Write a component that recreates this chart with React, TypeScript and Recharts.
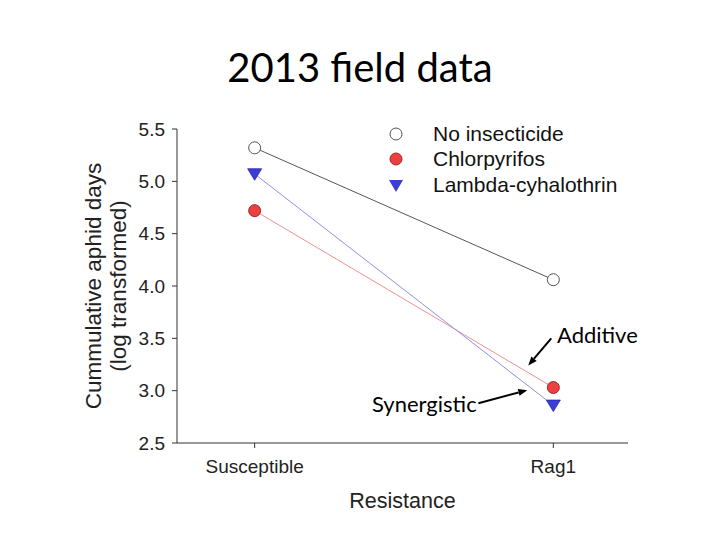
import {
  Line,
  LineChart,
  ReferenceLine,
  XAxis,
  YAxis,
} from "recharts";

const CATEGORIES = ["Susceptible", "Rag1"];
const NO_INSECTICIDE = [5.32, 4.06];
const CHLORPYRIFOS = [4.72, 3.03];
const LAMBDA = [5.07, 2.86];
const Y_TICKS = [2.5, 3.0, 3.5, 4.0, 4.5, 5.0, 5.5];

// arrows (start -> head) in data coordinates
const ADDITIVE_ARROW = [
  { x: 0.993, y: 3.5 },
  { x: 0.916, y: 3.24 },
];
const SYNERGISTIC_ARROW = [
  { x: 0.749, y: 2.88 },
  { x: 0.913, y: 3.005 },
];

const AXIS = "#333333";
const SANS = "'Liberation Sans', Arial, sans-serif";
const SLIDE = "Lato, 'Open Sans', sans-serif";

const data = CATEGORIES.map((c, i) => ({
  x: i,
  label: c,
  none: NO_INSECTICIDE[i],
  chlor: CHLORPYRIFOS[i],
  lambda: LAMBDA[i],
}));

function OpenCircle(props: any) {
  const { cx, cy } = props;
  return <circle cx={cx} cy={cy} r={6} fill="#fff" stroke="#555" strokeWidth={1} />;
}

function RedCircle(props: any) {
  const { cx, cy } = props;
  return <circle cx={cx} cy={cy} r={6} fill="#ec4040" stroke="#a02828" strokeWidth={1} />;
}

function BlueTriangle(props: any) {
  const { cx, cy } = props;
  const s = 7;
  return (
    <path
      d={`M${cx - s},${cy - s * 0.75} L${cx + s},${cy - s * 0.75} L${cx},${cy + s * 0.9} Z`}
      fill="#3c3cd8"
      stroke="#2a2aa0"
      strokeWidth={0.8}
    />
  );
}

function Arrow(props: any) {
  const { x1, y1, x2, y2 } = props;
  const ang = Math.atan2(y2 - y1, x2 - x1);
  const len = 9;
  const w = 3.5;
  const bx = x2 - len * Math.cos(ang);
  const by = y2 - len * Math.sin(ang);
  const px = -Math.sin(ang) * w;
  const py = Math.cos(ang) * w;
  return (
    <g>
      <line x1={x1} y1={y1} x2={bx} y2={by} stroke="#000" strokeWidth={2} />
      <path d={`M${x2},${y2} L${bx + px},${by + py} L${bx - px},${by - py} Z`} fill="#000" />
    </g>
  );
}

function LegendBox() {
  const rows = [
    { name: "No insecticide", icon: <circle cx={10} cy={10} r={6} fill="#fff" stroke="#555" /> },
    { name: "Chlorpyrifos", icon: <circle cx={10} cy={10} r={6} fill="#ec4040" stroke="#a02828" /> },
    { name: "Lambda-cyhalothrin", icon: <path d="M3,5 L17,5 L10,17 Z" fill="#3c3cd8" /> },
  ];
  return (
    <div
      style={{
        position: "absolute",
        left: 386,
        top: 121,
        fontFamily: SANS,
        fontSize: 21,
        color: "#111",
      }}
    >
      {rows.map((r) => (
        <div key={r.name} style={{ display: "flex", alignItems: "center", height: 25.5 }}>
          <svg width={20} height={20} style={{ marginRight: 27 }}>
            {r.icon}
          </svg>
          <span>{r.name}</span>
        </div>
      ))}
    </div>
  );
}

function YLabel(props: any) {
  const { viewBox } = props;
  const cy = viewBox.y + viewBox.height / 2;
  const x = 106;
  return (
    <text
      transform={`rotate(-90 ${x} ${cy})`}
      x={x}
      y={cy}
      textAnchor="middle"
      fontFamily={SANS}
      fontSize={22.5}
      fill="#222"
    >
      <tspan x={x} dy={-5}>Cummulative aphid days</tspan>
      <tspan x={x} dy={25}>(log transformed)</tspan>
    </text>
  );
}

export default function App() {
  return (
    <div style={{ position: "absolute", left: 0, top: 0, width: 720, height: 540, background: "#fff" }}>
      <div
        style={{
          position: "absolute",
          top: 43,
          width: 720,
          textAlign: "center",
          fontFamily: SLIDE,
          fontSize: 40,
          color: "#000",
        }}
      >
        2013 field data
      </div>
      <LineChart
        width={720}
        height={540}
        data={data}
        margin={{ top: 129, right: 92, bottom: 67, left: 117 }}
      >
        <XAxis
          dataKey="x"
          type="number"
          domain={[-0.26, 1.25]}
          ticks={[0, 1]}
          tickFormatter={(v: number) => CATEGORIES[v]}
          tick={{ fontSize: 19, fill: "#222", fontFamily: SANS }}
          stroke={AXIS}
          tickSize={5}
          tickMargin={12}
          height={30}
          label={{
            value: "Resistance",
            position: "bottom",
            offset: 20,
            fontSize: 21.5,
            fill: "#222",
            fontFamily: SANS,
          }}
        />
        <YAxis
          type="number"
          domain={[2.5, 5.5]}
          ticks={Y_TICKS}
          tickFormatter={(v: number) => v.toFixed(1)}
          tick={{ fontSize: 19, fill: "#222", fontFamily: SANS }}
          stroke={AXIS}
          tickSize={5}
          tickMargin={7}
          width={60}
          label={<YLabel />}
        />
        <Line
          dataKey="none"
          name="No insecticide"
          stroke="#555"
          strokeWidth={1}
          dot={<OpenCircle />}
          isAnimationActive={false}
        />
        <Line
          dataKey="chlor"
          name="Chlorpyrifos"
          stroke="#f09090"
          strokeWidth={1}
          dot={<RedCircle />}
          isAnimationActive={false}
        />
        <Line
          dataKey="lambda"
          name="Lambda-cyhalothrin"
          stroke="#9090e6"
          strokeWidth={1}
          dot={<BlueTriangle />}
          isAnimationActive={false}
        />
        <ReferenceLine
          segment={ADDITIVE_ARROW}
          ifOverflow="visible"
          shape={<Arrow />}
        />
        <ReferenceLine
          segment={SYNERGISTIC_ARROW}
          ifOverflow="visible"
          shape={<Arrow />}
        />
      </LineChart>
      <LegendBox />
      <div
        style={{
          position: "absolute",
          left: 557,
          top: 321,
          fontFamily: SLIDE,
          fontSize: 22,
          color: "#000",
        }}
      >
        Additive
      </div>
      <div
        style={{
          position: "absolute",
          left: 372,
          top: 390,
          fontFamily: SLIDE,
          fontSize: 22,
          color: "#000",
        }}
      >
        Synergistic
      </div>
    </div>
  );
}
